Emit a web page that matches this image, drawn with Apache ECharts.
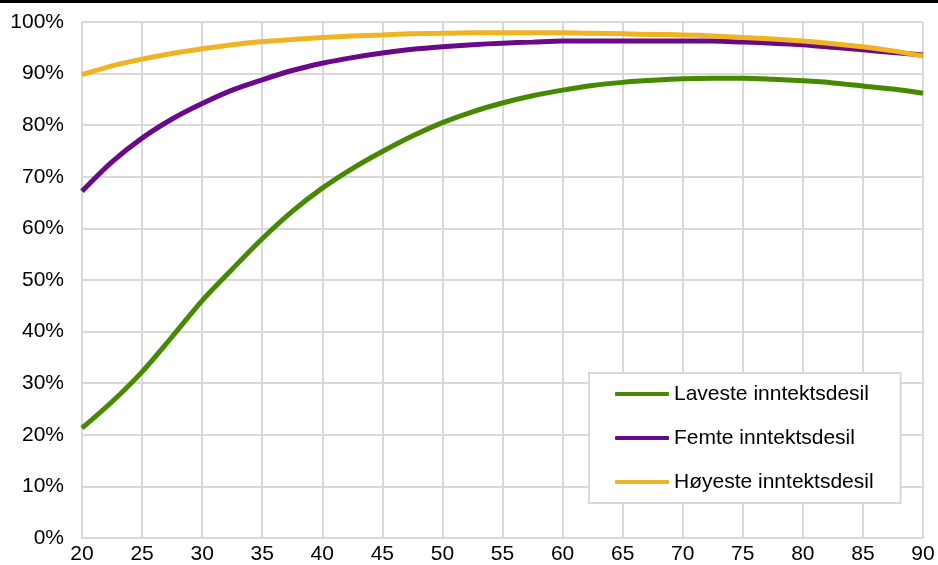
<!DOCTYPE html>
<html>
<head>
<meta charset="utf-8">
<script src="https://cdn.jsdelivr.net/npm/echarts@6/dist/echarts.min.js"></script>
<style>
html,body{margin:0;padding:0;background:#fff;}
#c{width:938px;height:565px;}
</style>
</head>
<body>
<div id="c"></div>
<script>
const ages = [20,22.5,25,27.5,30,32.5,35,37.5,40,42.5,45,47.5,50,52.5,55,57.5,60,62.5,65,67.5,70,72.5,75,77.5,80,82.5,85,87.5,90];
const seriesNames = ['Laveste inntektsdesil','Femte inntektsdesil','Høyeste inntektsdesil'];
const laveste = [21.3,26.4,32.2,39.0,46.0,52.1,58.0,63.3,67.8,71.6,74.9,77.9,80.5,82.6,84.3,85.7,86.8,87.7,88.3,88.7,89.0,89.1,89.1,88.9,88.6,88.2,87.6,87.0,86.2];
const femte   = [67.2,72.9,77.5,81.2,84.2,86.8,88.8,90.6,92.0,93.1,94.0,94.7,95.2,95.6,95.9,96.1,96.3,96.3,96.3,96.3,96.3,96.3,96.1,95.9,95.6,95.1,94.6,94.1,93.6];
const hoyeste = [89.8,91.5,92.8,93.9,94.8,95.6,96.2,96.6,97.0,97.3,97.5,97.7,97.8,97.9,97.9,97.9,97.9,97.8,97.7,97.6,97.5,97.3,97.0,96.7,96.3,95.8,95.2,94.4,93.4];
const xTicks = {min:20, max:90, interval:5};
const colors = ['#458a00','#6a0a8a','#efb323'];

const chart = echarts.init(document.getElementById('c'), null, {renderer:'canvas'});
const font = 'Liberation Sans, Arial, sans-serif';
const gridColor = '#d9d9d9';

function mk(name, vals, color){
  return {
    name: name, type:'line', smooth:0.3, showSymbol:false, symbol:'none',
    data: ages.map((a,i)=>[a, vals[i]]),
    lineStyle:{color:color, width:5},
    itemStyle:{color:color},
    animation:false
  };
}

chart.setOption({
  animation:false,
  color: colors,
  grid:{left:82, right:15, top:22, bottom:25},
  graphic:[{type:'rect', shape:{x:0,y:0,width:938,height:3}, style:{fill:'#000'}, z:100}],
  xAxis:{
    type:'value', min:xTicks.min, max:xTicks.max, interval:xTicks.interval,
    axisLine:{show:true, lineStyle:{color:gridColor, width:2}},
    axisTick:{show:false},
    splitLine:{show:true, lineStyle:{color:gridColor, width:2}},
    axisLabel:{color:'#000', fontFamily:font, fontSize:21, margin:6}
  },
  yAxis:{
    type:'value', min:0, max:100, interval:10,
    axisLine:{show:false},
    axisTick:{show:false},
    splitLine:{show:true, lineStyle:{color:gridColor, width:2}},
    axisLabel:{color:'#000', fontFamily:font, fontSize:21, margin:18, formatter:'{value}%'}
  },
  legend:{
    orient:'vertical', left:589, top:373,
    data: seriesNames,
    icon:'roundRect', itemWidth:54, itemHeight:4, itemGap:22,
    padding:[10,27,10,26],
    backgroundColor:'#fff', borderColor:gridColor, borderWidth:2,
    textStyle:{color:'#000', fontFamily:font, fontSize:21, lineHeight:22}
  },
  series:[
    mk(seriesNames[0], laveste, colors[0]),
    mk(seriesNames[1], femte, colors[1]),
    mk(seriesNames[2], hoyeste, colors[2])
  ]
});
</script>
</body>
</html>
